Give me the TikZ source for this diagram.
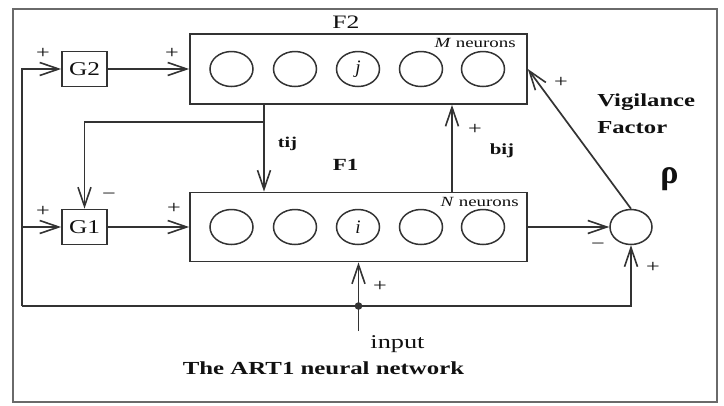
\documentclass[tikz,border=0pt]{standalone}
\usepackage{fontspec}
\setmainfont{Liberation Serif}
\usetikzlibrary{arrows.meta,shapes.geometric,calc}
\definecolor{linec}{HTML}{333333}
\definecolor{framec}{HTML}{6A6A6A}
\definecolor{txtc}{HTML}{111111}
\begin{document}
\begin{tikzpicture}[x=1pt,y=-1pt,
  ln/.style={draw=linec, line width=1.7pt},
  arr/.style={ln, -{Straight Barb[length=19pt,width=13pt,line width=1.6pt]}},
  boxn/.style={draw=linec, line width=1.7pt, inner sep=0pt},
  neuron/.style={ellipse, draw=linec, line width=1.5pt, minimum width=43pt, minimum height=35pt, inner sep=0pt, font=\fontsize{19}{21}\selectfont\itshape, text=txtc},
  lab/.style={inner sep=0pt, xscale=1.35, text=txtc},
  sgn/.style={lab, font=\fontsize{18}{20}\selectfont}
]
\useasboundingbox (0,0) rectangle (724,405);
\fill[white] (0,0) rectangle (724,405);
\draw[framec, line width=2.2pt] (13,9) rectangle (717,402);

% boxes
\node[boxn, minimum width=337pt, minimum height=70pt] (F2) at (358.5,69) {};
\node[boxn, minimum width=337pt, minimum height=69pt] (F1) at (358.5,227) {};
\node[boxn, minimum width=45pt, minimum height=35pt, font=\fontsize{19.5}{21}\selectfont, text=txtc] (G2) at (84.5,69) {\scalebox{1.3}[1]{G2}};
\node[boxn, minimum width=45pt, minimum height=35pt, font=\fontsize{19.5}{21}\selectfont, text=txtc] (G1) at (84.5,227) {\scalebox{1.3}[1]{G1}};

% neurons
\node[neuron] (m1) at (231.5,69) {};
\node[neuron] (m2) at (295,69) {};
\node[neuron] (m3) at (358,69) {j};
\node[neuron] (m4) at (421,69) {};
\node[neuron] (m5) at (483,69) {};
\node[neuron] (n1) at (231.5,227) {};
\node[neuron] (n2) at (295,227) {};
\node[neuron] (n3) at (358,227) {i};
\node[neuron] (n4) at (421,227) {};
\node[neuron] (n5) at (483,227) {};

% comparator
\node[ellipse, draw=linec, line width=1.5pt, minimum width=42pt, minimum height=35pt, inner sep=0pt] (cmp) at (631,227) {};

% coordinates
\coordinate (L2) at (22,69);
\coordinate (L1) at (22,227);
\coordinate (Lb) at (22,306);
\coordinate (tx) at (264,0);
\coordinate (br) at (264,122);
\coordinate (bx) at (452,0);
\coordinate (inb) at (358.5,331);
\coordinate (dot) at (358.5,306);

% connectors
\draw[arr] (Lb) -- (L2) -- (G2.west);
\draw[arr] (L1) -- (G1.west);
\draw[arr] (Lb) -| (cmp.south);
\draw[arr] (G2.east) -- (F2.west);
\draw[arr] (G1.east) -- (F1.west);
\draw[arr] (F2.south -| tx) -- (F1.north -| tx);
\draw[arr] (br) -| (G1.north);
\draw[arr] (F1.north -| bx) -- (F2.south -| bx);
\draw[arr] (F1.east) -- (cmp.west);
\draw[arr] (cmp.north) -- (F2.east);
\draw[arr] (inb) -- (F1.south);
\fill[linec] (dot) circle (3.8pt);

% labels
\node[lab, font=\fontsize{19}{21}\selectfont] (lF2) at (346,22.5) {F2};
\node[lab, font=\fontsize{17}{19}\selectfont\bfseries] (lF1) at (345.5,165) {F1};
\node[lab, font=\fontsize{15}{17}\selectfont\bfseries] (ltij) at (287.5,143.5) {tij};
\node[lab, font=\fontsize{15.5}{17}\selectfont\bfseries] (lbij) at (502,150.5) {bij};
\node[lab, anchor=base east, font=\fontsize{14}{16}\selectfont] (lM) at (516,47) {\textit{M} neurons};
\node[lab, anchor=base east, font=\fontsize{14}{16}\selectfont] (lN) at (519,206) {\textit{N} neurons};
\node[lab, anchor=base west, font=\fontsize{18.3}{20}\selectfont\bfseries] (lvig) at (597,106) {Vigilance};
\node[lab, anchor=base west, font=\fontsize{18.3}{20}\selectfont\bfseries] (lfac) at (597,133) {Factor};
\node[inner sep=0pt, text=txtc, font=\fontsize{34}{36}\selectfont\bfseries] (lrho) at (669.5,179.5) {ρ};
\node[lab, anchor=base, font=\fontsize{19.5}{21}\selectfont] (linput) at (397.5,348) {input};
\node[lab, anchor=base, font=\fontsize{18.4}{20}\selectfont\bfseries] (ltitle) at (323.5,374) {The ART1 neural network};

% signs
\node[sgn] (p1) at (43,53) {+};
\node[sgn] (p2) at (172,53) {+};
\node[sgn] (p3) at (43,211) {+};
\node[sgn] (p4) at (174,208) {+};
\node[sgn] (m1s) at (109,196) {−};
\node[sgn] (p5) at (475,129) {+};
\node[sgn] (p6) at (561,82) {+};
\node[sgn] (m2s) at (598,246) {−};
\node[sgn] (p7) at (653,267) {+};
\node[sgn] (p8) at (380,286) {+};
\end{tikzpicture}
\end{document}
